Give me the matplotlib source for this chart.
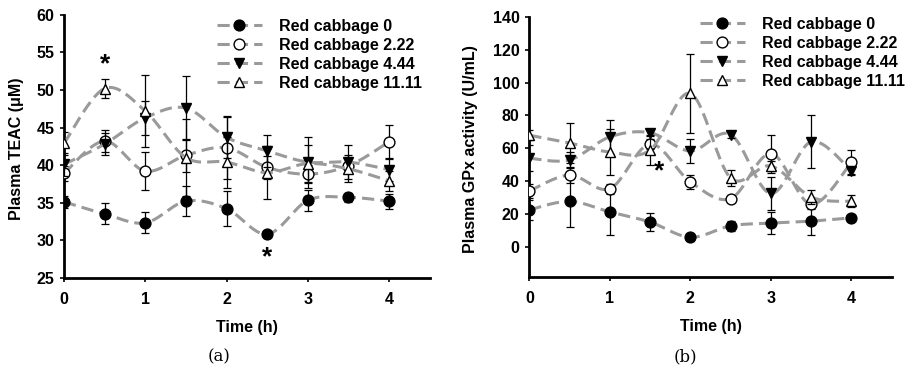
import numpy as np
import matplotlib
matplotlib.use("Agg")
import matplotlib.pyplot as plt
from matplotlib.lines import Line2D

plt.rcParams["font.family"] = ["Liberation Sans", "DejaVu Sans"]
plt.rcParams["font.weight"] = "bold"

# Sampling times (h)
time_h = [0, 0.5, 1, 1.5, 2, 2.5, 3, 3.5, 4]
x_ticks = [0, 1, 2, 3, 4]

series_labels = ["Red cabbage 0", "Red cabbage 2.22", "Red cabbage 4.44", "Red cabbage 11.11"]

# Plasma TEAC (uM): means and error
teac_0 = [35.1, 33.5, 32.3, 35.2, 34.2, 30.8, 35.3, 35.7, 35.2]
teac_0_err = [0.8, 1.4, 1.4, 2.0, 2.3, 0.4, 1.4, 0.6, 1.0]
teac_222 = [38.9, 43.2, 39.2, 41.3, 42.3, 39.7, 38.8, 39.9, 43.1]
teac_222_err = [1.0, 1.5, 2.5, 2.2, 4.2, 1.5, 1.2, 1.0, 2.3]
teac_444 = [40.1, 42.8, 46.3, 47.6, 43.7, 41.9, 40.4, 40.4, 39.4]
teac_444_err = [1.5, 1.5, 2.3, 4.2, 2.7, 2.1, 3.4, 2.3, 1.5]
teac_1111 = [42.9, 50.2, 47.2, 41.0, 40.4, 39.0, 40.2, 39.5, 37.9]
teac_1111_err = [1.5, 1.3, 4.8, 5.1, 3.4, 3.5, 2.5, 1.8, 1.3]
teac_yticks = [25, 30, 35, 40, 45, 50, 55, 60]

# Plasma GPx activity (U/mL): means and error
gpx_0 = [22.7, 27.8, 21.4, 15.2, 6.0, 12.9, 14.6, 15.8, 17.8]
gpx_0_err = [6.0, 15.6, 13.9, 5.6, 2.0, 3.0, 6.5, 8.7, 2.0]
gpx_222 = [34.1, 43.8, 35.5, 62.6, 39.6, 29.5, 56.8, 26.0, 51.6]
gpx_222_err = [4.0, 5.0, 3.0, 3.0, 4.0, 2.0, 11.6, 3.0, 7.6]
gpx_444 = [54.0, 53.0, 67.0, 69.5, 58.4, 68.4, 32.6, 64.0, 46.3]
gpx_444_err = [8.0, 5.0, 10.5, 2.0, 7.0, 2.0, 10.3, 16.0, 2.0]
gpx_1111 = [68.0, 63.3, 57.8, 59.0, 93.4, 42.0, 49.3, 30.4, 27.8]
gpx_1111_err = [3.0, 12.2, 14.0, 9.2, 24.0, 4.7, 3.0, 4.5, 3.7]
gpx_yticks = [0, 20, 40, 60, 80, 100, 120, 140]

styles = [
    dict(marker="o", mfc="black", mec="black"),
    dict(marker="o", mfc="white", mec="black"),
    dict(marker="v", mfc="black", mec="black"),
    dict(marker="^", mfc="white", mec="black"),
]
LINE_GREY = "#9a9a9a"
DASH = (4, 2)
FS = 11.5


def smooth_curve(x, y, n=24):
    """Piecewise cubic Bezier through the points (Catmull-Rom style smoothing)."""
    pts = np.column_stack([x, y]).astype(float)
    P = np.vstack([pts[0], pts, pts[-1]])
    out = []
    t = np.linspace(0, 1, n)[:, None]
    for i in range(len(pts) - 1):
        p0, p1, p2, p3 = P[i], P[i + 1], P[i + 2], P[i + 3]
        c1 = p1 + (p2 - p0) / 6.0
        c2 = p2 - (p3 - p1) / 6.0
        seg = (1 - t) ** 3 * p1 + 3 * (1 - t) ** 2 * t * c1 + 3 * (1 - t) * t ** 2 * c2 + t ** 3 * p2
        out.append(seg if i == 0 else seg[1:])
    return np.vstack(out)


def draw_panel(ax, means, errs, yticks, ylim, ylabel, ylabel_x):
    for k, (m, e) in enumerate(zip(means, errs)):
        z = 3 + k * 3
        curve = smooth_curve(time_h, m)
        ax.plot(curve[:, 0], curve[:, 1], color=LINE_GREY, lw=2.2,
                linestyle=(0, DASH), zorder=z)
        ax.errorbar(time_h, m, yerr=e, fmt="none", ecolor="black", elinewidth=0.9,
                    capsize=2.9, capthick=0.9, zorder=z + 1)
        ax.plot(time_h, m, linestyle="none", markersize=7.8, markeredgewidth=1.0,
                zorder=z + 2, **styles[k])
    ax.set_xlim(0, 4.5)
    ax.set_ylim(*ylim)
    ax.set_xticks(x_ticks)
    ax.set_yticks(yticks)
    for s in ("top", "right"):
        ax.spines[s].set_visible(False)
    for s in ("left", "bottom"):
        ax.spines[s].set_linewidth(2.0)
    ax.tick_params(axis="y", direction="out", length=3, width=1.2, pad=4, labelsize=FS)
    ax.tick_params(axis="x", direction="out", length=3, width=1.2, pad=7, labelsize=FS)
    for lab in ax.get_xticklabels() + ax.get_yticklabels():
        lab.set_fontweight("bold")
    ax.set_xlabel("Time (h)", fontsize=FS, fontweight="bold")
    ax.set_ylabel(ylabel, fontsize=FS, fontweight="bold")
    ax.xaxis.set_label_coords(0.5, -0.19)
    ax.xaxis.label.set_va("center")
    ax.yaxis.set_label_coords(ylabel_x, 0.49)
    ax.yaxis.label.set_va("center")
    ax.yaxis.label.set_ha("center")
    ax.patch.set_alpha(0)


def add_legend(ax, anchor):
    handles = [Line2D([0], [0], color=LINE_GREY, lw=2.2, linestyle=(0, DASH),
                      markersize=7.8, markeredgewidth=1.0, **st) for st in styles]
    ax.legend(handles, series_labels, loc="upper left", bbox_to_anchor=anchor,
              frameon=False, prop={"weight": "bold", "size": FS},
              handlelength=2.8, handletextpad=1.1, labelspacing=0.25,
              borderpad=0, borderaxespad=0)


fig = plt.figure(figsize=(9.12, 3.68), dpi=100)
ax1 = fig.add_axes([0.0702, 0.2454, 0.401, 0.714])
ax2 = fig.add_axes([0.5804, 0.248, 0.3974, 0.7065])

draw_panel(ax1, [teac_0, teac_222, teac_444, teac_1111],
           [teac_0_err, teac_222_err, teac_444_err, teac_1111_err],
           teac_yticks, (25, 60), "Plasma TEAC (\u03bcM)", -0.13)
draw_panel(ax2, [gpx_0, gpx_222, gpx_444, gpx_1111],
           [gpx_0_err, gpx_222_err, gpx_444_err, gpx_1111_err],
           gpx_yticks, (-18, 140), "Plasma GPx activity (U/mL)", -0.162)

add_legend(ax1, (0.418, 0.985))
add_legend(ax2, (0.471, 1.0))

# significance marks
star = dict(ha="center", va="center", fontsize=19, fontweight="bold", zorder=20)
ax1.text(0.5, 53.4, "*", **star)
ax1.text(2.5, 27.7, "*", **star)
ax2.text(1.61, 45.8, "*", **star)

# panel letters
fig.text(219 / 912, 1 - 357 / 368, "(a)", ha="center", va="center",
         fontsize=12, fontweight="normal", family=["DejaVu Serif"])
fig.text(685 / 912, 1 - 357 / 368, "(b)", ha="center", va="center",
         fontsize=12, fontweight="normal", family=["DejaVu Serif"])

fig.savefig("out.png", dpi=100)
